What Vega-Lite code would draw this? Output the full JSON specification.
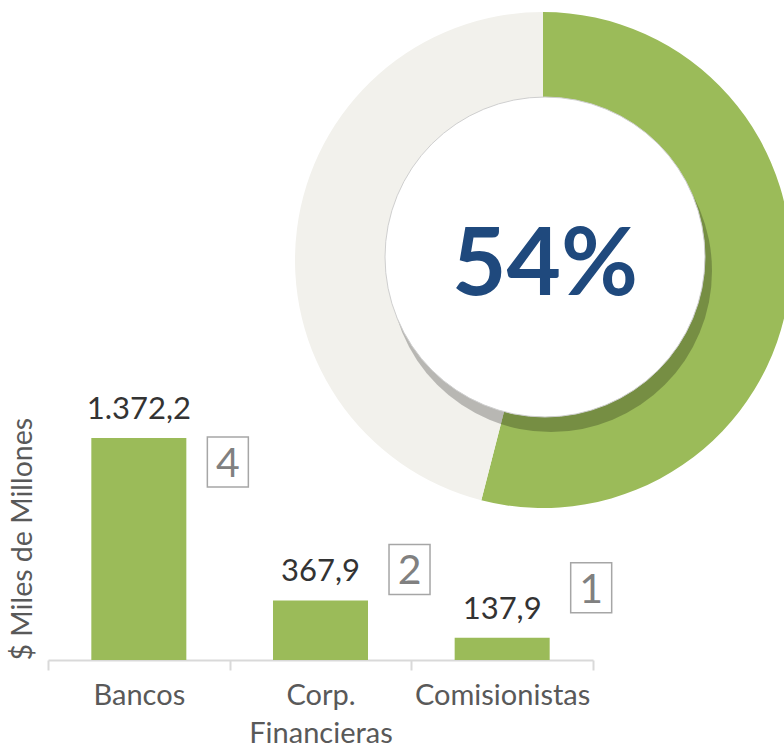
{
  "$schema": "https://vega.github.io/schema/vega-lite/v6.json",
  "autosize": {"type": "none"},
  "padding": {"left": 48, "top": 0, "right": 0, "bottom": 89},
  "width": 736,
  "height": 660,
  "background": "white",
  "config": {"view": {"stroke": null}, "font": "Lato"},
  "datasets": {
    "bars": [
      {"cat": "Bancos", "valor": 1372.2, "label": "1.372,2", "n": 4},
      {"cat": "Corp. Financieras", "valor": 367.9, "label": "367,9", "n": 2},
      {"cat": "Comisionistas", "valor": 137.9, "label": "137,9", "n": 1}
    ],
    "donut": [
      {"seg": "si", "pct": 54, "label": "54%"},
      {"seg": "no", "pct": 46, "label": "46%"}
    ]
  },
  "layer": [
    {
      "data": {"name": "donut"},
      "mark": {"type": "arc", "radius": 248, "radius2": 140, "x": 495, "y": 260},
      "encoding": {
        "theta": {"field": "pct", "type": "quantitative", "stack": true},
        "order": {"field": "pct", "sort": "descending"},
        "color": {"field": "seg", "type": "nominal", "legend": null,
          "scale": {"domain": ["si", "no"], "range": ["#9bbb59", "#f2f1ec"]}}
      }
    },
    {
      "data": {"name": "donut"},
      "transform": [{"filter": "datum.seg == 'si'"}],
      "mark": {"type": "arc", "radius": 161, "theta": 0, "theta2": 6.2832, "x": 503, "y": 271, "color": "#000000", "opacity": 0.24},
      "encoding": {}
    },
    {
      "data": {"name": "donut"},
      "transform": [{"filter": "datum.seg == 'si'"}],
      "mark": {"type": "arc", "radius": 160, "theta": 0, "theta2": 6.2832, "x": 497, "y": 257, "color": "#ffffff", "stroke": "#cfcfcf", "strokeWidth": 1},
      "encoding": {}
    },
    {
      "data": {"name": "donut"},
      "transform": [{"filter": "datum.seg == 'si'"}],
      "mark": {"type": "text", "x": 497, "y": 295, "align": "center", "baseline": "alphabetic", "fontSize": 94, "fontWeight": "bold", "color": "#1f497d", "font": "Lato"},
      "encoding": {"text": {"field": "label"}}
    },
    {
      "data": {"name": "bars"},
      "mark": {"type": "bar", "color": "#9bbb59", "width": {"band": 0.523}},
      "encoding": {
        "x": {"field": "cat", "type": "nominal", "sort": null,
          "scale": {"paddingInner": 0, "paddingOuter": 0, "range": [0, 545]},
          "axis": {"title": null, "labelAngle": 0, "tickBand": "extent", "domainColor": "#d9d9d9", "domainWidth": 2, "tickColor": "#d9d9d9", "tickWidth": 2, "tickSize": 10,
            "labelFontSize": 29, "labelColor": "#595959", "labelPadding": 11, "labelFont": "Lato", "labelLineHeight": 38,
            "labelExpr": "datum.label == 'Corp. Financieras' ? ['Corp.', 'Financieras'] : datum.label"}},
        "y": {"field": "valor", "type": "quantitative",
          "scale": {"domain": [0, 4080], "nice": false},
          "axis": {"title": "$ Miles de Millones", "titleAnchor": "start", "titleFontSize": 28.5, "titleFontWeight": "normal", "titleColor": "#595959", "titleFont": "Lato", "titlePadding": 11, "domain": false, "ticks": false, "labels": false, "grid": false}}
      }
    },
    {
      "data": {"name": "bars"},
      "mark": {"type": "text", "baseline": "alphabetic", "dy": -19, "fontSize": 31, "color": "#333333", "font": "Lato"},
      "encoding": {
        "x": {"field": "cat", "type": "nominal", "sort": null},
        "y": {"field": "valor", "type": "quantitative"},
        "text": {"field": "label"}
      }
    },
    {
      "data": {"name": "bars"},
      "mark": {"type": "point", "shape": "M-0.82,-1H0.82V1H-0.82Z", "size": 2500, "filled": false, "stroke": "#a6a6a6", "strokeWidth": 1.5, "opacity": 1,
        "yOffset": {"expr": "datum.n == 4 ? 24 : (datum.n == 2 ? -31 : -50)"}},
      "encoding": {
        "x": {"field": "cat", "type": "nominal", "sort": null, "bandPosition": 0.99},
        "y": {"field": "valor", "type": "quantitative"}
      }
    },
    {
      "data": {"name": "bars"},
      "mark": {"type": "text", "baseline": "alphabetic", "align": "center", "fontSize": 41, "color": "#808080", "font": "Lato",
        "dy": {"expr": "datum.n == 4 ? 39 : (datum.n == 2 ? -16 : -35)"}},
      "encoding": {
        "x": {"field": "cat", "type": "nominal", "sort": null, "bandPosition": 0.99},
        "y": {"field": "valor", "type": "quantitative"},
        "text": {"field": "n"}
      }
    }
  ]
}
